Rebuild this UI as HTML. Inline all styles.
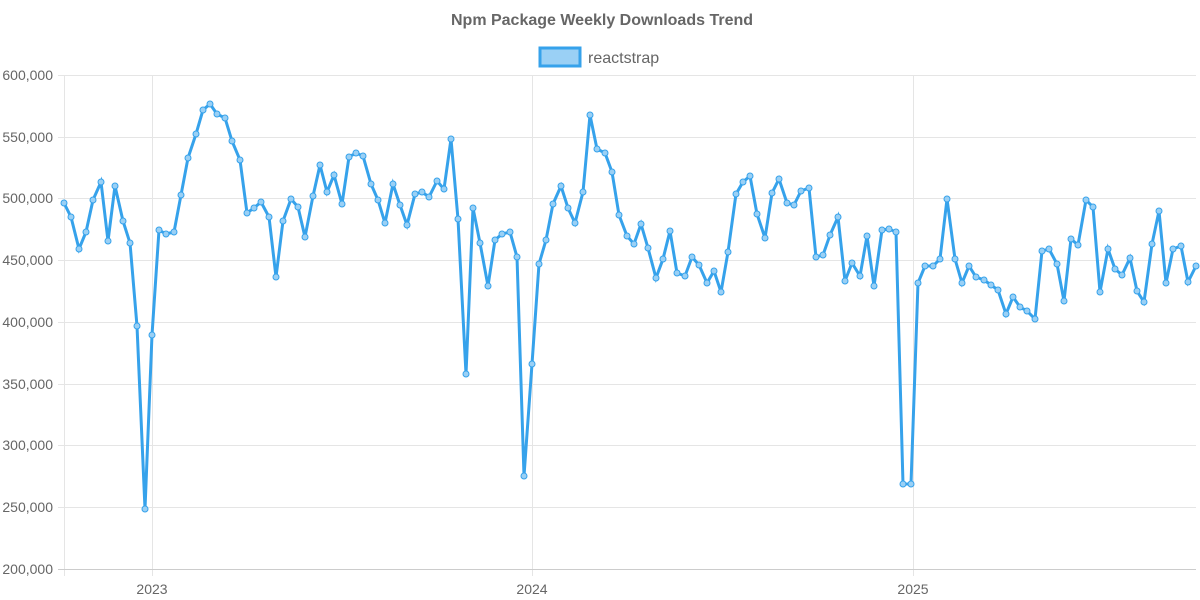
<!DOCTYPE html>
<html><head><meta charset="utf-8"><style>
body{margin:0;background:#fff;}
svg{display:block;font-family:"Liberation Sans",sans-serif;}
</style></head><body>
<svg width="1200" height="600" xmlns="http://www.w3.org/2000/svg">
<text x="602" y="25" text-anchor="middle" font-size="16" font-weight="bold" fill="#666">Npm Package Weekly Downloads Trend</text>
<rect x="540" y="48" width="40" height="18" fill="#9ad0f5" stroke="#36a2eb" stroke-width="3"/>
<text x="588" y="63" font-size="16" fill="#666">reactstrap</text>
<g stroke="#e5e5e5" stroke-width="1">
<line x1="58" x2="1196" y1="75.5" y2="75.5"/><line x1="58" x2="1196" y1="137.5" y2="137.5"/><line x1="58" x2="1196" y1="198.5" y2="198.5"/><line x1="58" x2="1196" y1="260.5" y2="260.5"/><line x1="58" x2="1196" y1="322.5" y2="322.5"/><line x1="58" x2="1196" y1="384.5" y2="384.5"/><line x1="58" x2="1196" y1="445.5" y2="445.5"/><line x1="58" x2="1196" y1="507.5" y2="507.5"/>
<line x1="64.5" x2="64.5" y1="75" y2="576"/><line x1="152.5" x2="152.5" y1="75" y2="576"/><line x1="532.5" x2="532.5" y1="75" y2="576"/><line x1="913.5" x2="913.5" y1="75" y2="576"/>
</g>
<line x1="58" x2="1196" y1="569.5" y2="569.5" stroke="#ccc"/>
<g font-size="14" fill="#666" text-anchor="end">
<text x="53" y="80">600,000</text><text x="53" y="142">550,000</text><text x="53" y="203">500,000</text><text x="53" y="265">450,000</text><text x="53" y="327">400,000</text><text x="53" y="389">350,000</text><text x="53" y="450">300,000</text><text x="53" y="512">250,000</text><text x="53" y="574">200,000</text>
</g>
<g font-size="14" fill="#666" text-anchor="middle">
<text x="152" y="594">2023</text><text x="532" y="594">2024</text><text x="913" y="594">2025</text>
</g>
<polyline id="ln" fill="none" stroke="#36a2eb" stroke-width="3" stroke-linejoin="miter" points="64,203 71,217 79,249 86,232 93,200 101,182 108,241 115,186 123,221 130,243 137,326 145,509 152,335 159,230 166,234 174,232 181,195 188,158 196,134 203,110 210,104 217,114 225,118 232,141 240,160 247,213 254,208 261,202 269,217 276,277 283,221 291,199 298,207 305,237 313,196 320,165 327,192 334,175 342,204 349,157 356,153 363,156 371,184 378,200 385,223 393,184 400,205 407,225 415,194 422,192 429,197 437,181 444,189 451,139 458,219 466,374 473,208 480,243 488,286 495,240 502,234 510,232 517,257 524,476 532,364 539,264 546,240 553,204 561,186 568,208 575,223 583,192 590,115 597,149 605,153 612,172 619,215 627,236 634,244 641,224 648,248 656,278 663,259 670,231 677,273 685,276 692,257 699,265 707,283 714,271 721,292 728,252 736,194 743,182 750,176 757,214 765,238 772,193 779,179 787,203 794,205 801,191 809,188 816,257 823,255 830,235 838,217 845,281 852,263 860,276 867,236 874,286 882,230 889,229 896,232 903,484 911,484 918,283 925,266 933,266 940,259 947,199 955,259 962,283 969,266 976,277 984,280 991,285 998,290 1006,314 1013,297 1020,307 1027,311 1035,319 1042,251 1049,249 1057,264 1064,301 1071,239 1078,245 1086,200 1093,207 1100,292 1108,249 1115,269 1122,275 1130,258 1137,291 1144,302 1152,244 1159,211 1166,283 1173,249 1181,246 1188,282 1196,266"/>
<g id="pts" fill="#9ad0f5" stroke="#36a2eb" stroke-width="1"></g>
<script>
var p=document.getElementById('ln').getAttribute('points').trim().split(/\s+/),g=document.getElementById('pts');
p.forEach(function(s){var a=s.split(',');var c=document.createElementNS('http://www.w3.org/2000/svg','circle');c.setAttribute('cx',a[0]);c.setAttribute('cy',a[1]);c.setAttribute('r','3');g.appendChild(c);});
</script>
</svg>
</body></html>
